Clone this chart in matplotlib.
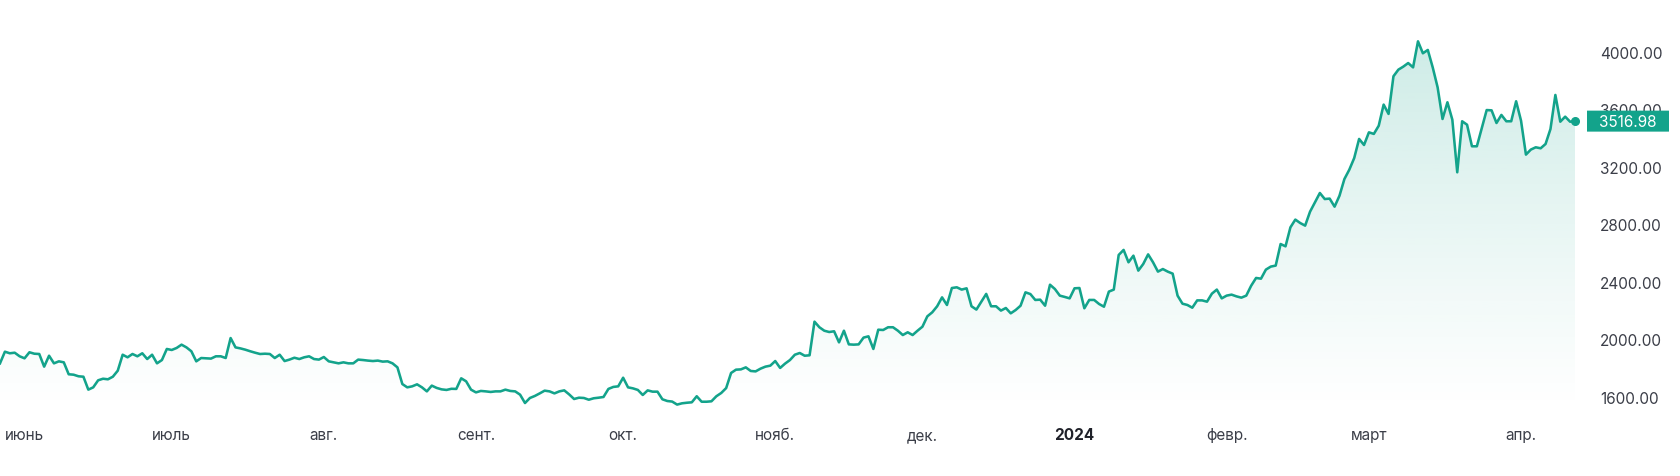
import numpy as np
import pandas as pd
import matplotlib
matplotlib.use("Agg")
import matplotlib.pyplot as plt
import matplotlib.dates as mdates
from matplotlib.patches import Polygon, FancyBboxPatch
from matplotlib.transforms import blended_transform_factory

plt.rcParams['font.family'] = ['Inter', 'DejaVu Sans']

# ---- data: daily closes, starting 2023-05-27 ----
start_date = '2023-05-27'
may_2023 = [1832, 1913, 1902, 1906, 1881]
jun_2023 = [1867, 1909, 1899, 1897, 1809, 1885, 1832, 1846, 1839, 1756,
            1753, 1742, 1739, 1649, 1665, 1714, 1725, 1721, 1739, 1781,
            1892, 1874, 1897, 1881, 1902, 1862, 1892, 1832, 1855, 1932]
jul_2023 = [1925, 1939, 1962, 1943, 1916, 1846, 1869, 1867, 1865, 1881,
            1881, 1869, 2008, 1943, 1936, 1927, 1916, 1906, 1897, 1899,
            1897, 1869, 1892, 1848, 1858, 1871, 1862, 1874, 1881, 1862, 1858]
aug_2023 = [1876, 1846, 1839, 1832, 1839, 1832, 1832, 1858, 1855, 1851,
            1848, 1851, 1844, 1846, 1832, 1804, 1688, 1665, 1672, 1686,
            1665, 1637, 1677, 1661, 1651, 1647, 1655, 1654, 1728, 1707, 1649]
sep_2023 = [1630, 1640, 1637, 1633, 1637, 1637, 1649, 1640, 1637, 1614,
            1556, 1591, 1605, 1623, 1642, 1637, 1623, 1637, 1644, 1616,
            1584, 1593, 1591, 1579, 1589, 1593, 1598, 1654, 1668, 1672]
oct_2023 = [1732, 1665, 1658, 1647, 1612, 1644, 1635, 1635, 1582, 1570,
            1566, 1545, 1554, 1558, 1561, 1603, 1565, 1565, 1568, 1603,
            1626, 1660, 1765, 1788, 1790, 1804, 1779, 1776, 1795, 1809, 1816]
nov_2023 = [1848, 1800, 1830, 1855, 1892, 1904, 1885, 1888, 2122, 2083,
            2059, 2050, 2055, 1978, 2059, 1964, 1962, 1964, 2011, 2020,
            1932, 2066, 2064, 2083, 2083, 2059, 2029, 2048, 2029, 2059]
dec_2023 = [2087, 2159, 2187, 2229, 2291, 2238, 2356, 2361, 2345, 2354,
            2229, 2206, 2261, 2315, 2229, 2229, 2199, 2217, 2180, 2203,
            2233, 2326, 2314, 2273, 2275, 2233, 2379, 2349, 2303, 2294, 2284]
jan_2024 = [2354, 2356, 2215, 2273, 2273, 2245, 2226, 2331, 2345, 2586,
            2621, 2535, 2581, 2477, 2523, 2590, 2535, 2470, 2488, 2470,
            2456, 2303, 2247, 2238, 2219, 2270, 2270, 2261, 2317, 2345, 2284]
feb_2024 = [2303, 2310, 2298, 2289, 2303, 2372, 2426, 2421, 2484, 2505,
            2512, 2662, 2646, 2778, 2832, 2808, 2790, 2887, 2952, 3017,
            2975, 2978, 2922, 2998, 3114, 3179, 3260, 3393, 3351]
mar_2024 = [3439, 3428, 3485, 3632, 3567, 3829, 3875, 3896, 3921, 3891,
            4072, 3989, 4012, 3891, 3752, 3532, 3648, 3527, 3161, 3516,
            3492, 3342, 3342, 3467, 3594, 3592, 3504, 3560, 3516, 3516, 3655]
apr_2024 = [3520, 3284, 3319, 3335, 3328, 3358, 3462, 3699, 3513, 3548,
            3513, 3516.98]

month_starts = ['2023-06-01', '2023-07-01', '2023-08-01', '2023-09-01',
                '2023-10-01', '2023-11-01', '2023-12-01', '2024-01-01',
                '2024-02-01', '2024-03-01', '2024-04-01']
month_labels = ['июнь', 'июль', 'авг.', 'сент.', 'окт.', 'нояб.', 'дек.',
                '2024', 'февр.', 'март', 'апр.']
y_ticks = [1600, 2000, 2400, 2800, 3200, 3600, 4000]

values = np.array(may_2023 + jun_2023 + jul_2023 + aug_2023 + sep_2023 +
                  oct_2023 + nov_2023 + dec_2023 + jan_2024 + feb_2024 +
                  mar_2024 + apr_2024, dtype=float)
dates = pd.date_range(start_date, periods=len(values), freq='D')
x = mdates.date2num(dates)

TEAL = '#13a38b'
TEXT = '#3b3e48'

W, H = 1680, 477
fig = plt.figure(figsize=(W / 100, H / 100), dpi=100)
ax = fig.add_axes([0, 60 / H, 1575 / W, 407 / H])
ymin, ymax = 1465.7, 4297

# gradient fill under the line
n = 256
grad = np.zeros((n, 1, 4))
grad[..., 0] = 20 / 255
grad[..., 1] = 163 / 255
grad[..., 2] = 139 / 255
grad[:, 0, 3] = np.linspace(0.0, 0.24, n) ** 1.1
im = ax.imshow(grad, extent=[x[0], x[-1], 1500, values.max()], origin='lower',
               aspect='auto', interpolation='bilinear', zorder=1)
poly = Polygon(np.column_stack([np.r_[x[0], x, x[-1]],
                                np.r_[ymin, values, ymin]]),
               closed=True, facecolor='none', edgecolor='none')
ax.add_patch(poly)
im.set_clip_path(poly)
ax.set_xlim(x[0], x[-1])
ax.set_ylim(ymin, ymax)

ax.plot(x, values, color=TEAL, lw=1.85, solid_joinstyle='round', zorder=3)
ax.plot([x[-1]], [values[-1]], 'o', color=TEAL, ms=5.5, zorder=4, clip_on=False)

for s in ax.spines.values():
    s.set_visible(False)

ax.yaxis.tick_right()
ax.set_yticks(y_ticks)
ax.set_yticklabels([f'{v:.2f}' for v in y_ticks])
ax.tick_params(axis='y', length=0, pad=18, labelsize=11, labelcolor=TEXT)

ax.set_xticks(mdates.date2num(pd.to_datetime(month_starts)))
ax.set_xticklabels(month_labels)
ax.tick_params(axis='x', length=0, pad=8, labelsize=11, labelcolor=TEXT)
for lbl in ax.get_xticklabels():
    if lbl.get_text() == '2024':
        lbl.set_fontweight('bold')
        lbl.set_color('#1f2129')

# last value badge
tr = blended_transform_factory(ax.transAxes, ax.transData)
px_per_unit = 407 / (ymax - ymin)
bh = 21 / px_per_unit
ax.add_patch(FancyBboxPatch((1587 / 1575, values[-1] - bh / 2), 82 / 1575, bh,
                            boxstyle='round,pad=0,rounding_size=0.0012',
                            mutation_aspect=bh / (82 / 1575) * 0.05,
                            transform=tr, facecolor=TEAL, edgecolor='none',
                            clip_on=False, zorder=6))
ax.text((1587 + 41) / 1575, values[-1], f'{values[-1]:.2f}', transform=tr,
        ha='center', va='center', color='white', fontsize=11, zorder=7,
        clip_on=False)

fig.savefig('out.png', dpi=100)
